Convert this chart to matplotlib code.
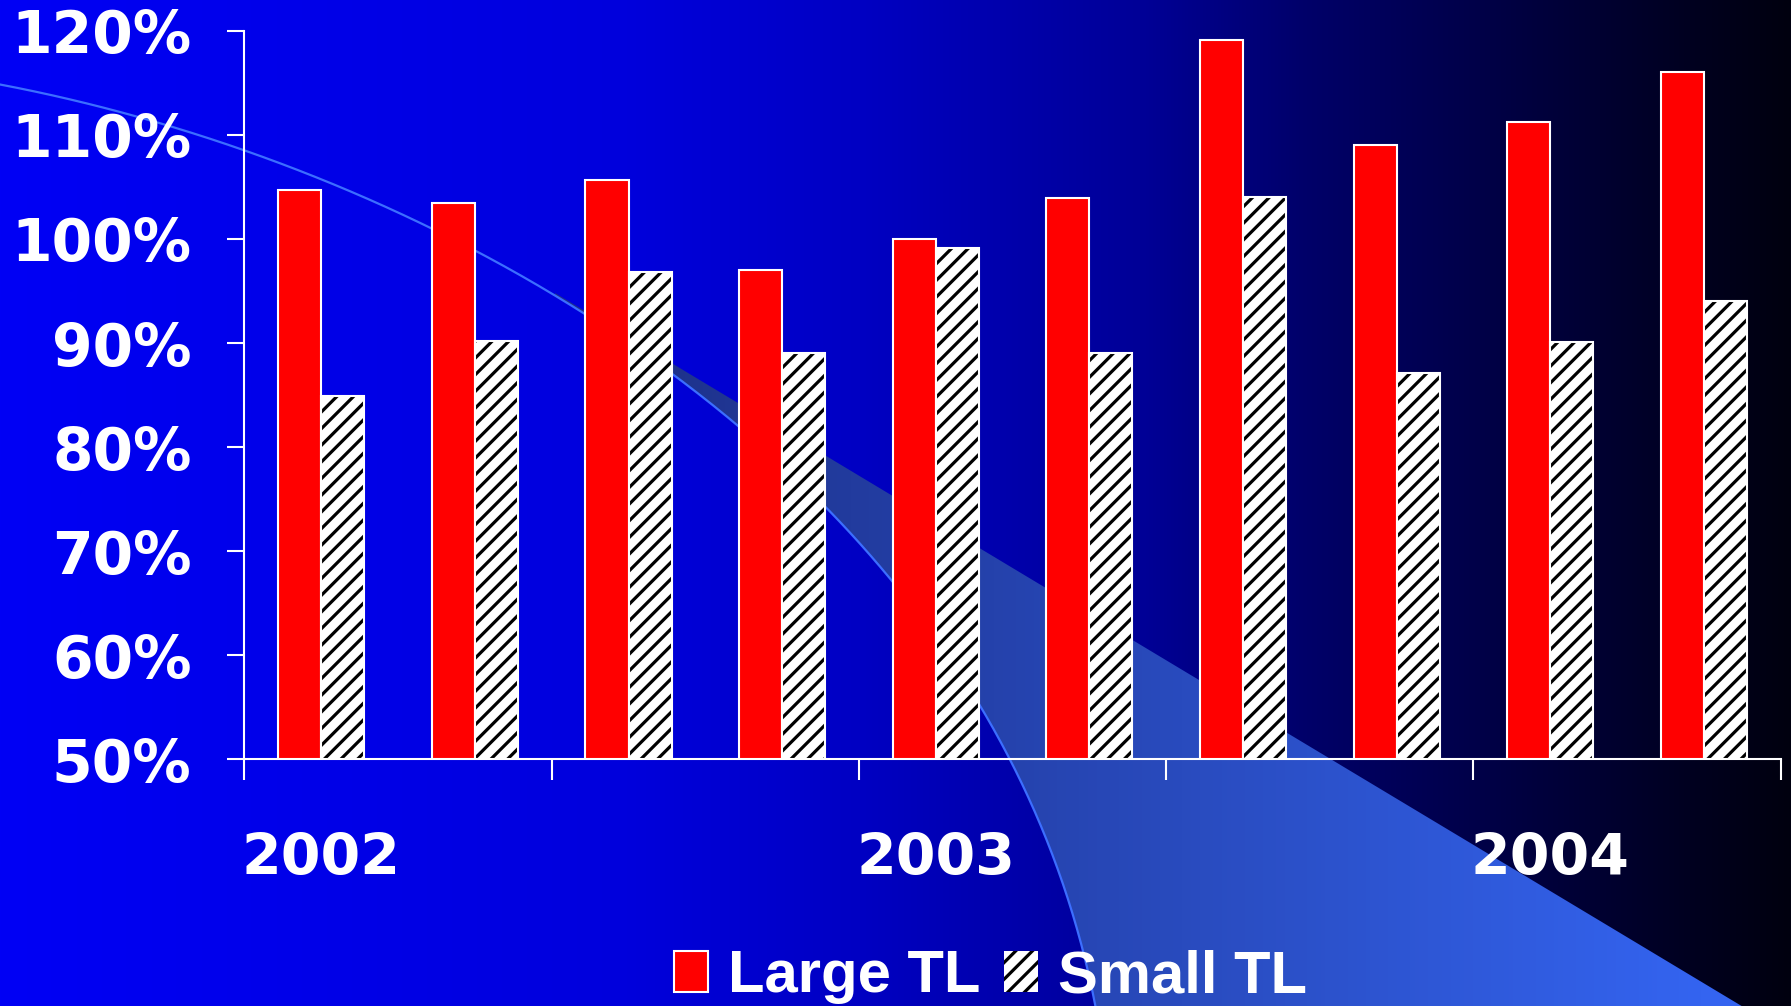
import numpy as np
import matplotlib
matplotlib.use('Agg')
import matplotlib.pyplot as plt
from matplotlib.path import Path
from matplotlib.patches import PathPatch
from matplotlib.ticker import FixedLocator, NullFormatter, FixedFormatter

# ---------------- data ----------------
categories = ["2002", "", "", "", "2003", "", "", "", "2004", ""]
large_tl = [104.7, 103.5, 105.7, 97.0, 100.0, 103.9, 119.1, 109.0, 111.2, 116.0]
small_tl = [84.9, 90.2, 96.8, 89.0, 99.1, 89.0, 104.0, 87.1, 90.1, 94.0]
series_names = ["Large TL", "Small TL"]
y_ticks = [50, 60, 70, 80, 90, 100, 110, 120]
y_tick_labels = ["50%", "60%", "70%", "80%", "90%", "100%", "110%", "120%"]

plt.rcParams['hatch.linewidth'] = 2.3

# ---------------- figure ----------------
W, H = 1791, 1006
fig = plt.figure(figsize=(W / 100, H / 100), dpi=100)

# background decoration (figure-fraction coordinates, reference drawn at 1568x881)
RW, RH = 1568.0, 881.0
bg = fig.add_axes([0, 0, 1, 1], zorder=-10)
bg.axis('off')

gx = np.linspace(0, 1, 600)
stops_x = [0, 0.35, 0.48, 0.64, 0.73, 0.95, 1.0]
stops_b = [245, 220, 195, 150, 105, 30, 15]
blue = np.interp(gx, stops_x, stops_b) / 255.0
grad = np.zeros((2, gx.size, 3))
grad[:, :, 2] = blue
bg.imshow(grad, extent=(0, 1, 0, 1), aspect='auto', origin='lower', zorder=0)

def to_fig(px, py):
    return np.asarray(px) / RW, 1 - np.asarray(py) / RH

# bezier curve (decorative arc)
P = np.array([[0, 74], [400, 150], [870, 420], [959, 881]], float)
t = np.linspace(0, 1, 400)
bez = ((1 - t) ** 3)[:, None] * P[0] + (3 * (1 - t) ** 2 * t)[:, None] * P[1] \
    + (3 * (1 - t) * t ** 2)[:, None] * P[2] + (t ** 3)[:, None] * P[3]

# straight edge of the light band
def line_y(x):
    return 318 + 0.601 * (x - 588)

diff = bez[:, 1] - line_y(bez[:, 0])
idx = int(np.argmin(diff))
curve_part = bez[idx:]
x_bottom = 588 + (RH + 40 - 318) / 0.601
start = np.array([curve_part[0][0], line_y(curve_part[0][0])])
poly = np.vstack([start, [x_bottom, RH + 40], [curve_part[-1][0], RH + 40], curve_part[::-1]])
fx, fy = to_fig(poly[:, 0], poly[:, 1])
band_path = Path(np.column_stack([fx, fy]))
band_patch = PathPatch(band_path, facecolor='none', edgecolor='none', transform=bg.transData)
bg.add_patch(band_patch)
bx = np.linspace(0, 1, 400)
r = np.interp(bx, [0.0, 0.37, 0.95, 1.0], [30, 30, 52, 52])
g = np.interp(bx, [0.0, 0.37, 0.95, 1.0], [50, 50, 100, 100])
b = np.interp(bx, [0.0, 0.37, 0.95, 1.0], [140, 140, 240, 240])
band_grad = np.zeros((2, bx.size, 3))
band_grad[:, :, 0] = r / 255
band_grad[:, :, 1] = g / 255
band_grad[:, :, 2] = b / 255
im = bg.imshow(band_grad, extent=(0, 1, 0, 1), aspect='auto', origin='lower', zorder=1)
im.set_clip_path(band_patch)

cx, cy = to_fig(bez[:, 0], bez[:, 1])
bg.plot(cx, cy, color='#3C6EFF', lw=1.6, zorder=2)
bg.set_xlim(0, 1)
bg.set_ylim(0, 1)

# ---------------- main chart ----------------
ax = fig.add_axes([214 / RW, 1 - 665 / RH, (1559 - 214) / RW, (665 - 27) / RH])
ax.set_facecolor('none')
x = np.arange(len(categories))
w = 0.28
b1 = ax.bar(x - w / 2, large_tl, w, color='#FF0000', edgecolor='white', linewidth=1.5, zorder=3)
b2 = ax.bar(x + w / 2, small_tl, w, color='white', edgecolor='black', hatch='//', linewidth=0, zorder=3)
ax.bar(x + w / 2, small_tl, w, fill=False, edgecolor='white', linewidth=1.5, zorder=4)

ax.set_xlim(-0.5, len(categories) - 0.5)
ax.set_ylim(50, 120)
for s in ['top', 'right']:
    ax.spines[s].set_visible(False)
for s in ['left', 'bottom']:
    ax.spines[s].set_color('white')
    ax.spines[s].set_linewidth(1.5)
    ax.spines[s].set_zorder(5)

ax.set_yticks(y_ticks)
ax.set_yticklabels(y_tick_labels)
ax.tick_params(axis='y', colors='white', length=12, width=1.5, pad=26, direction='out')
for lab in ax.get_yticklabels():
    lab.set_fontfamily('DejaVu Sans')
    lab.set_fontweight('bold')
    lab.set_fontsize(42)

ax.xaxis.set_major_locator(FixedLocator(np.arange(-0.5, len(categories), 2)))
ax.xaxis.set_major_formatter(NullFormatter())
ax.xaxis.set_minor_locator(FixedLocator(x))
ax.xaxis.set_minor_formatter(FixedFormatter(categories))
ax.tick_params(axis='x', which='major', colors='white', length=15, width=1.5, direction='out')
ax.tick_params(axis='x', which='minor', colors='white', length=0, pad=52)
for lab in ax.xaxis.get_minorticklabels():
    lab.set_fontfamily('DejaVu Sans')
    lab.set_fontweight('bold')
    lab.set_fontsize(41)

leg = fig.legend([b1[0], b2[0]], series_names, loc='center', bbox_to_anchor=(0.553, 0.029),
                 ncol=2, frameon=False, handlelength=0.57, handleheight=0.67,
                 handletextpad=0.33, columnspacing=0.4, borderaxespad=0,
                 prop=dict(family='Liberation Sans', weight='bold', size=43))
for txt in leg.get_texts():
    txt.set_color('white')

fig.savefig('out.png', dpi=100)
